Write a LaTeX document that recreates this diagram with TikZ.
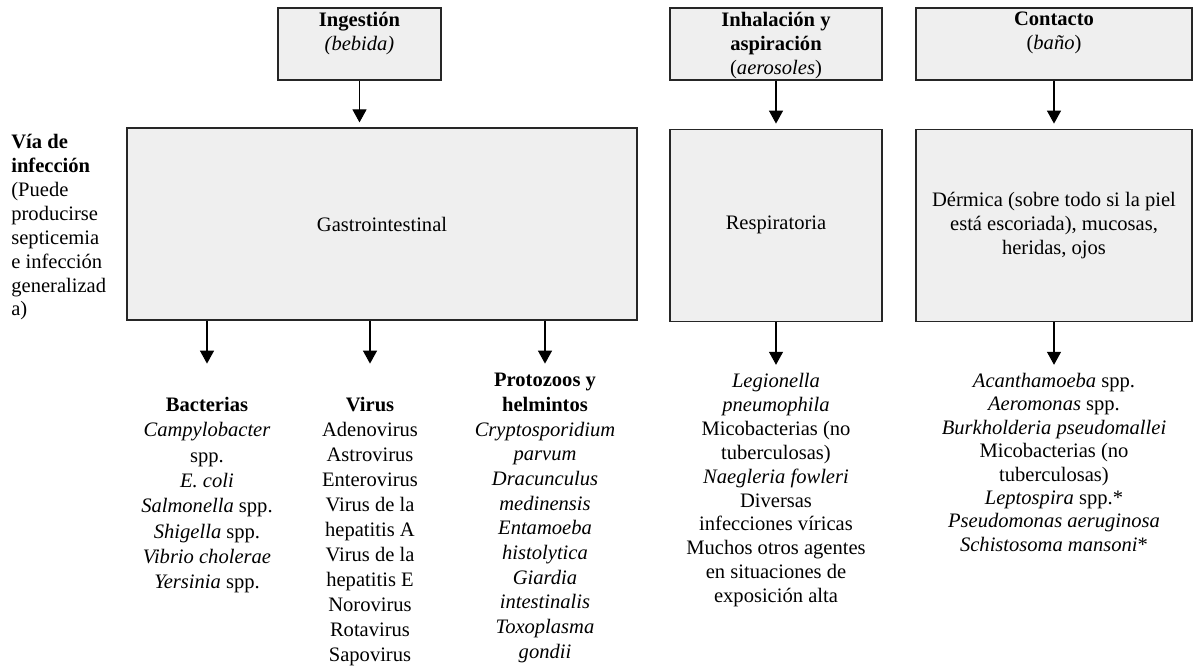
\documentclass[tikz,border=0pt]{standalone}
\usepackage{fontspec}
\setmainfont{Liberation Serif}
\usetikzlibrary{positioning,arrows.meta}
\definecolor{boxgray}{RGB}{239,239,239}

\begin{document}
\begin{tikzpicture}[
  x=0.02cm, y=-0.02cm,
  textstyle/.style={
        align=center,
        inner sep=0,
        font=\fontsize{11.7}{13.6}\selectfont
  },
  boxstyle/.style={
        textstyle,
        draw=black!85,
        fill=boxgray,
        line width=0.7pt,
        rectangle
  },
  arrowstyle/.style={
        line width=0.6pt,
        -{Triangle[width=8pt,length=7.4pt]}
  }
]

    \useasboundingbox (0,0) rectangle (1193,669);

    % top row
    \node[boxstyle, minimum width=3.26cm, minimum height=1.44cm] (ingestion) at (359.5,44) {};
    \node[textstyle, anchor=north] (ingestion_t) at (359.5,12) {\textbf{Ingestión}\\\textit{(bebida)}};

    \node[boxstyle, minimum width=4.24cm, minimum height=1.44cm] (inhalacion) at (776,44) {};
    \node[textstyle, anchor=north] (inhalacion_t) at (776,12) {\textbf{Inhalación y}\\\textbf{aspiración}\\(\textit{aerosoles})};

    \node[boxstyle, minimum width=5.52cm, minimum height=1.44cm] (contacto) at (1054,44) {};
    \node[textstyle, anchor=north] (contacto_t) at (1054,12) {\textbf{Contacto}\\(\textit{baño})};

    % via de infeccion
    \node[textstyle, align=left, anchor=north west] (via) at (11,134)
        {\textbf{Vía de}\\\textbf{infección}\\(Puede\\producirse\\septicemia\\e infección\\generalizad\\a)};

    \node[boxstyle, minimum width=10.2cm, minimum height=3.84cm] (gastro) at (382,224) {Gastrointestinal};
    \node[boxstyle, minimum width=4.24cm, minimum height=3.84cm, below=0.96cm of inhalacion] (resp) {Respiratoria};
    \node[boxstyle, minimum width=5.52cm, minimum height=3.84cm, below=0.96cm of contacto] (dermica)
        {Dérmica (sobre todo si la piel\\está escoriada), mucosas,\\heridas, ojos};

    % agentes
    \node[textstyle, font=\fontsize{11.7}{14.4}\selectfont, anchor=north] (bact) at (207,397)
        {\textbf{Bacterias}\\\textit{Campylobacter}\\spp.\\\textit{E. coli}\\\textit{Salmonella} spp.\\\textit{Shigella} spp.\\\textit{Vibrio cholerae}\\\textit{Yersinia} spp.};
    \node[textstyle, font=\fontsize{11.7}{14.2}\selectfont, anchor=north] (virus) at (370,397)
        {\textbf{Virus}\\Adenovirus\\Astrovirus\\Enterovirus\\Virus de la\\hepatitis A\\Virus de la\\hepatitis E\\Norovirus\\Rotavirus\\Sapovirus};
    \node[textstyle, font=\fontsize{11.7}{14.05}\selectfont, anchor=north] (proto) at (545,373)
        {\textbf{Protozoos y}\\\textbf{helmintos}\\\textit{Cryptosporidium}\\\textit{parvum}\\\textit{Dracunculus}\\\textit{medinensis}\\\textit{Entamoeba}\\\textit{histolytica}\\\textit{Giardia}\\\textit{intestinalis}\\\textit{Toxoplasma}\\\textit{gondii}};
    \node[textstyle, anchor=north] (resp_l) at (776,373)
        {\textit{Legionella}\\\textit{pneumophila}\\Micobacterias (no\\tuberculosas)\\\textit{Naegleria fowleri}\\Diversas\\infecciones víricas\\Muchos otros agentes\\en situaciones de\\exposición alta};
    \node[textstyle, font=\fontsize{11.7}{13.3}\selectfont, anchor=north] (dermica_l) at (1054,373)
        {\textit{Acanthamoeba} spp.\\\textit{Aeromonas} spp.\\\textit{Burkholderia pseudomallei}\\Micobacterias (no\\tuberculosas)\\\textit{Leptospira} spp.*\\\textit{Pseudomonas aeruginosa}\\\textit{Schistosoma mansoni}*};

    \draw[arrowstyle, shorten >=0.1cm] (ingestion) -- (ingestion |- gastro.north);
    \draw[arrowstyle, shorten >=0.1cm] (inhalacion) -- (resp);
    \draw[arrowstyle, shorten >=0.1cm] (contacto) -- (dermica);

    \draw[arrowstyle] (gastro.south -| bact) -- ++(0,43);
    \draw[arrowstyle] (gastro.south -| virus) -- ++(0,43);
    \draw[arrowstyle] (gastro.south -| proto) -- ++(0,43);
    \draw[arrowstyle] (resp.south -| resp_l) -- ++(0,43);
    \draw[arrowstyle] (dermica.south -| dermica_l) -- ++(0,43);
\end{tikzpicture}
\end{document}
